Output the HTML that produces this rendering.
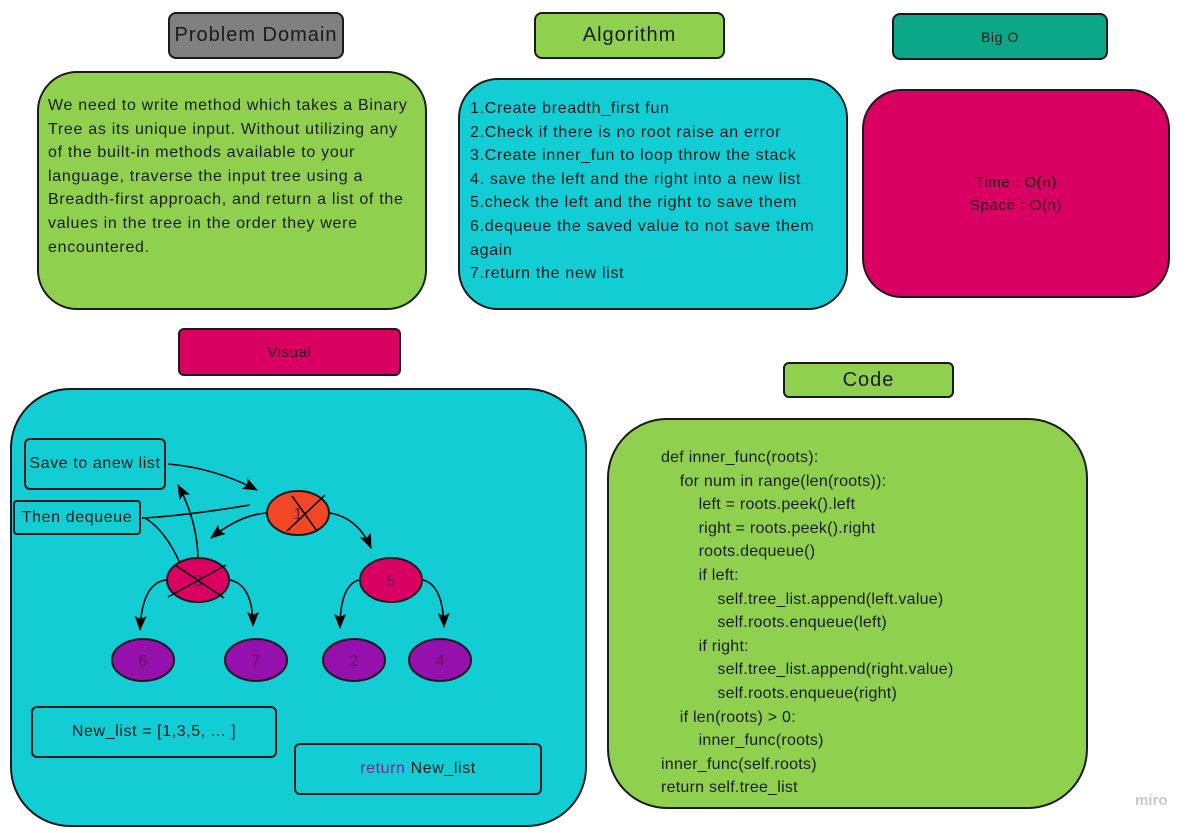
<!DOCTYPE html>
<html><head><style>
body{margin:0;width:1200px;height:833px;background:#fff;position:relative;overflow:hidden;font-family:"Liberation Sans","DejaVu Sans",sans-serif;color:#1a1a1a}
.b{position:absolute;box-sizing:border-box;border:2px solid #1a1a1a;display:flex;align-items:center;justify-content:center;text-align:center;letter-spacing:0.6px}
.t{position:absolute;font-size:16px;line-height:23.6px;white-space:pre;letter-spacing:0.7px}
</style></head><body>
<div class="b" style="left:168px;top:12px;width:176px;height:47px;background:#808080;border-radius:8px;font-size:20px;letter-spacing:1px">Problem Domain</div>
<div class="b" style="left:534px;top:12px;width:191px;height:47px;background:#8fd14f;border-radius:8px;font-size:20px;letter-spacing:1px">Algorithm</div>
<div class="b" style="left:892px;top:13px;width:216px;height:47px;background:#0ca789;border-radius:8px;font-size:14px">Big O</div>
<div class="b" style="left:37px;top:71px;width:390px;height:239px;background:#8fd14f;border-radius:40px"></div>
<div class="t" style="left:48px;top:94px">We need to write method which takes a Binary
Tree as its unique input. Without utilizing any
of the built-in methods available to your
language, traverse the input tree using a
Breadth-first approach, and return a list of the
values in the tree in the order they were
encountered.</div>
<div class="b" style="left:458px;top:78px;width:390px;height:232px;background:#12cdd4;border-radius:40px"></div>
<div class="t" style="left:470px;top:97px">1.Create breadth_first fun
2.Check if there is no root raise an error
3.Create inner_fun to loop throw the stack
4. save the left and the right into a new list
5.check the left and the right to save them
6.dequeue the saved value to not save them
again
7.return the new list</div>
<div class="b" style="left:862px;top:89px;width:308px;height:209px;background:#da0063;border-radius:40px;font-size:15px;line-height:23px">Time : O(n)<br>Space : O(n)</div>
<div class="b" style="left:178px;top:328px;width:223px;height:48px;background:#da0063;border-radius:6px;font-size:15px">Visual</div>
<div class="b" style="left:783px;top:362px;width:171px;height:36px;background:#8fd14f;border-radius:6px;font-size:20px;letter-spacing:1px">Code</div>
<div class="b" style="left:10px;top:388px;width:577px;height:439px;background:#12cdd4;border-radius:60px"></div>
<div class="b" style="left:607px;top:418px;width:481px;height:391px;background:#8fd14f;border-radius:60px"></div>
<div class="t" style="left:661px;top:446px;letter-spacing:0.25px">def inner_func(roots):
    for num in range(len(roots)):
        left = roots.peek().left
        right = roots.peek().right
        roots.dequeue()
        if left:
            self.tree_list.append(left.value)
            self.roots.enqueue(left)
        if right:
            self.tree_list.append(right.value)
            self.roots.enqueue(right)
    if len(roots) &gt; 0:
        inner_func(roots)
inner_func(self.roots)
return self.tree_list</div>
<div class="b" style="left:24px;top:438px;width:142px;height:52px;background:#12cdd4;border-radius:6px;font-size:16px">Save to anew list</div>
<div class="b" style="left:13px;top:500px;width:128px;height:35px;background:#12cdd4;border-radius:4px;font-size:16px">Then dequeue</div>
<div class="b" style="left:31px;top:706px;width:246px;height:52px;background:#12cdd4;border-radius:6px;font-size:16px">New_list = [1,3,5, ... ]</div>
<div class="b" style="left:294px;top:743px;width:248px;height:52px;background:#12cdd4;border-radius:6px;font-size:16px"><span style="color:#8a1a9a">return</span>&nbsp;New_list</div>
<svg width="1200" height="833" style="position:absolute;left:0;top:0">
<defs><marker id="a" markerWidth="16" markerHeight="12" refX="14" refY="6" orient="auto" markerUnits="userSpaceOnUse"><path d="M0,0 L15,6 L0,12 L3,6 Z" fill="#000"/></marker></defs>
<g fill="none" stroke="#000" stroke-width="1.6">
<path d="M168,464 Q215,468 257,490" marker-end="url(#a)"/>
<path d="M250,505 Q190,515 145,518 L142,518"/>
<path d="M145,518 Q165,530 180,563"/>
<path d="M198,558 Q197,520 178,485" marker-end="url(#a)"/>
<path d="M266,513 Q240,515 211,538" marker-end="url(#a)"/>
<path d="M330,513 Q358,518 371,548" marker-end="url(#a)"/>
<path d="M166,580 Q142,583 140,630" marker-end="url(#a)"/>
<path d="M230,580 Q253,585 253,626" marker-end="url(#a)"/>
<path d="M359,580 Q340,585 340,628" marker-end="url(#a)"/>
<path d="M423,580 Q443,585 444,627" marker-end="url(#a)"/>
</g>
<g stroke="#1a1a1a" stroke-width="2" font-family="Liberation Sans,sans-serif" font-size="16" text-anchor="middle">
<ellipse cx="298" cy="513" rx="31" ry="22" fill="#f24726"/>
<ellipse cx="198" cy="580" rx="31" ry="22" fill="#da0063"/>
<ellipse cx="391" cy="580" rx="31" ry="22" fill="#da0063"/>
<ellipse cx="143" cy="660" rx="31" ry="21" fill="#9510ac"/>
<ellipse cx="256" cy="660" rx="31" ry="21" fill="#9510ac"/>
<ellipse cx="354" cy="660" rx="31" ry="21" fill="#9510ac"/>
<ellipse cx="440" cy="660" rx="31" ry="21" fill="#9510ac"/>
<g stroke="none" fill="#5a1a50"><text x="298" y="519">1</text><text x="198" y="586">3</text><text x="391" y="586">5</text><text x="143" y="666">6</text><text x="256" y="666">7</text><text x="354" y="666">2</text><text x="440" y="666">4</text></g>
<path d="M292,496 L317,531 M325,495 L287,531 M175,565 L224,598 M226,565 L168,597" fill="none" stroke="#000" stroke-width="1.5"/>
</g>
<text x="1135" y="805" font-family="Liberation Sans,sans-serif" font-size="15" font-weight="bold" fill="#c8c8c8">miro</text>
</svg>
</body></html>
